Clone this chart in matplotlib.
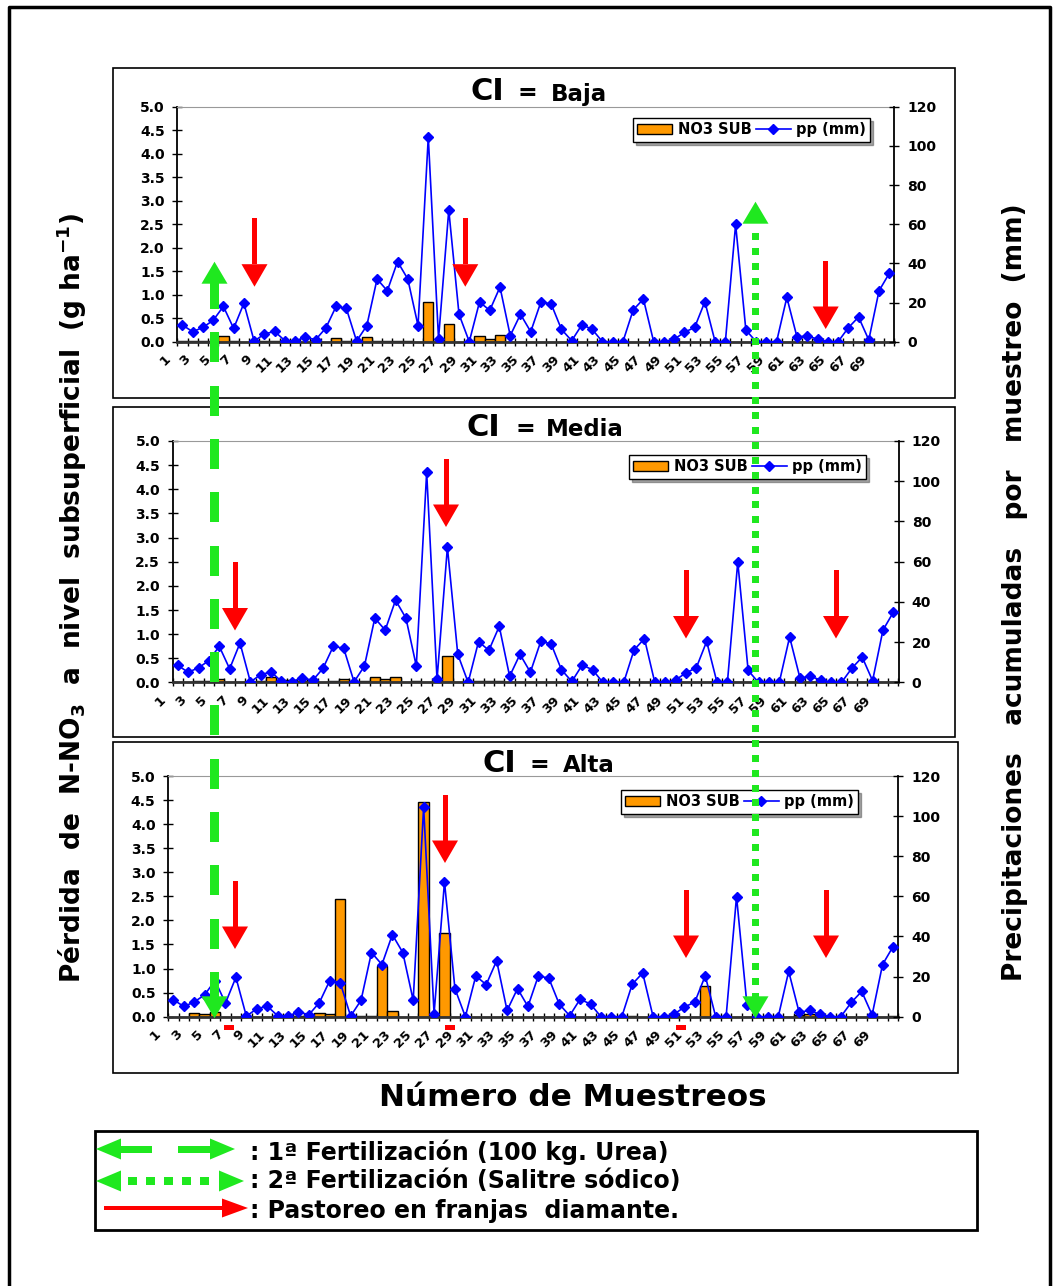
import numpy as np
import matplotlib
matplotlib.use("Agg")
import matplotlib.pyplot as plt
import matplotlib.transforms as mtransforms
from matplotlib.patches import Rectangle, Polygon, Patch
from matplotlib.lines import Line2D
from matplotlib.ticker import FormatStrFormatter

plt.rcParams['font.family'] = ['DejaVu Sans']
plt.rcParams['font.weight'] = 'bold'
plt.rcParams['mathtext.default'] = 'bf'

# datos: 70 muestreos
muestreos = np.arange(1, 71)

pp_mm = [8.5, 5.1, 7.3, 10.9, 18.0, 6.8, 19.6, 0.3, 3.9, 5.3,
         0.5, 0.3, 2.4, 1.0, 7.0, 18.0, 17.0, 0.3, 8.2, 32.0,
         26.0, 40.9, 32.0, 8.2, 104.5, 1.5, 67.2, 14.0, 0.0, 20.3,
         16.0, 27.9, 3.1, 14.0, 5.1, 20.4, 19.2, 6.3, 0.5, 8.7,
         6.3, 0.0, 0.0, 0.0, 16.2, 21.8, 0.0, 0.0, 1.2, 4.8,
         7.3, 20.4, 0.0, 0.0, 59.9, 6.0, 0.0, 0.0, 0.0, 22.6,
         2.2, 3.1, 1.2, 0.0, 0.0, 7.1, 12.6, 0.9, 26.0, 34.9]

no3_baja = [0.02, 0.02, 0.02, 0.02, 0.12, 0.02, 0, 0, 0.02, 0.02,
            0, 0, 0, 0, 0, 0.07, 0.02, 0, 0.09, 0.02,
            0.02, 0.02, 0.02, 0, 0.84, 0, 0.37, 0, 0, 0.13,
            0.05, 0.15, 0, 0, 0, 0, 0, 0, 0, 0,
            0, 0, 0, 0, 0, 0, 0, 0, 0, 0,
            0, 0, 0, 0, 0, 0, 0, 0, 0, 0,
            0, 0, 0, 0, 0, 0, 0, 0, 0, 0]

no3_media = [0, 0, 0.04, 0.04, 0.08, 0, 0, 0, 0.03, 0.11,
             0.06, 0.06, 0.04, 0, 0, 0.04, 0.07, 0, 0.04, 0.11,
             0.08, 0.11, 0, 0.03, 0, 0, 0.54, 0, 0, 0.04,
             0.04, 0.03, 0, 0, 0, 0, 0, 0, 0, 0,
             0, 0, 0, 0, 0, 0.02, 0, 0, 0, 0,
             0.02, 0, 0, 0, 0, 0, 0, 0, 0, 0,
             0, 0, 0, 0, 0, 0, 0, 0, 0, 0]

no3_alta = [0, 0, 0.08, 0.05, 0.09, 0, 0, 0, 0, 0,
            0.01, 0.01, 0.01, 0.01, 0.08, 0.05, 2.44, 0, 0.02, 0.02,
            1.05, 0.12, 0, 0, 4.45, 0, 1.74, 0, 0, 0,
            0, 0, 0, 0, 0, 0, 0, 0, 0, 0,
            0, 0, 0, 0, 0.02, 0, 0, 0, 0, 0,
            0, 0.64, 0, 0, 0, 0, 0, 0, 0, 0,
            0.03, 0.05, 0, 0, 0, 0, 0, 0, 0, 0.02]

naranja = '#FF9900'
azul = '#0000FF'
verde = '#1FE81F'
rojo = '#FF0000'

W, H = 1057, 1286
fig = plt.figure(figsize=(W / 100, H / 100), dpi=100)

# capa para anotaciones en pixeles
ov = fig.add_axes([0, 0, 1, 1])
ov.set_xlim(0, W)
ov.set_ylim(H, 0)
ov.axis('off')
ov.set_zorder(10)

# marco general
ov.plot([9, 9, 1050, 1050], [1286, 7, 7, 1286], color='black', lw=2.5, solid_capstyle='projecting')


def grafico(no3, ejes, marco, palabra, tx, base, ley):
    x0, x1, y0, y1 = ejes
    ov.add_patch(Rectangle((marco[0], marco[1]), marco[2] - marco[0], marco[3] - marco[1],
                           fill=False, edgecolor='black', lw=1.2))
    ax = fig.add_axes([x0 / W, 1 - y1 / H, (x1 - x0) / W, (y1 - y0) / H])
    ax.patch.set_alpha(0)
    ax.bar(muestreos, no3, width=1.0, color=naranja, edgecolor='black', linewidth=1.0, zorder=2)
    ax.set_xlim(0.5, 70.5)
    ax.set_ylim(0, 5)
    ax.set_yticks(np.arange(0, 5.01, 0.5))
    ax.yaxis.set_major_formatter(FormatStrFormatter('%.1f'))
    ax.set_xticks(np.arange(0.5, 71, 1))
    ax.set_xticklabels([])
    ax.set_xticks(muestreos[::2], minor=True)
    ax.set_xticklabels([str(k) for k in muestreos[::2]], minor=True, rotation=45, ha='right')
    ax.tick_params(axis='x', which='major', direction='inout', length=6, width=1, color='black')
    ax.tick_params(axis='x', which='minor', length=0, pad=8, labelsize=9.5)
    ax.tick_params(axis='y', direction='inout', length=7, width=1, labelsize=10, pad=5.5)
    desplaza = mtransforms.ScaledTranslation(-7 / 72, 0, fig.dpi_scale_trans)
    for t in ax.get_xticklabels(minor=True):
        t.set_transform(t.get_transform() + desplaza)
    ax.spines['top'].set_color('#999999')
    ax.spines['right'].set_visible(False)
    ax.spines['left'].set_linewidth(1.3)
    ax.spines['bottom'].set_linewidth(2)
    ax.spines['bottom'].set_color('#333333')

    ax2 = ax.twinx()
    ax2.plot(muestreos, pp_mm, color=azul, lw=1.2, marker='D', ms=5, zorder=3)
    ax2.set_ylim(0, 120)
    ax2.set_yticks(range(0, 121, 20))
    ax2.tick_params(axis='y', direction='inout', length=7, width=1, labelsize=10, pad=6)
    for s in ('left', 'top', 'bottom'):
        ax2.spines[s].set_visible(False)
    ax2.spines['right'].set_linewidth(1.3)

    manejas = [Patch(facecolor=naranja, edgecolor='black', label='NO3 SUB'),
               Line2D([], [], color=azul, marker='D', ms=5, lw=1.2, label='pp (mm)')]
    leg = ax2.legend(handles=manejas, ncol=2, loc='upper right',
                     bbox_to_anchor=(ley[0] / W, 1 - ley[1] / H), bbox_transform=fig.transFigure,
                     frameon=True, fancybox=False, shadow=True, edgecolor='black',
                     prop={'weight': 'bold', 'size': 10.5}, handlelength=2.4,
                     handletextpad=0.35, columnspacing=0.3, borderpad=0.3, borderaxespad=0)
    leg.get_frame().set_linewidth(1.0)

    ov.text(tx[0], base, 'CI', fontsize=22, ha='left', va='baseline')
    ov.text(tx[1], base, '=', fontsize=17, ha='left', va='baseline')
    ov.text(tx[2], base, palabra, fontsize=16.5, ha='left', va='baseline')


grafico(no3_baja, (177.3, 894.4, 106.7, 341.7), (113, 68, 955, 398), 'Baja',
        (470, 518, 551), 100.5, (870, 118))
grafico(no3_media, (172.6, 898.5, 441, 682.5), (113, 407, 955, 737), 'Media',
        (466, 515, 546), 435.7, (866, 455))
grafico(no3_alta, (168.1, 898.2, 776, 1016.7), (112.5, 742, 957.5, 1073), 'Alta',
        (482, 530, 563), 771.7, (858, 790))


def cabeza(x, punta, alto, ancho, color, eje='v'):
    if eje == 'v':
        base = punta + alto if alto > 0 else punta + alto
        pts = [[x - ancho / 2, punta + alto], [x + ancho / 2, punta + alto], [x, punta]]
    else:
        pts = [[punta + alto, x - ancho / 2], [punta + alto, x + ancho / 2], [punta, x]]
    ov.add_patch(Polygon(pts, closed=True, facecolor=color, edgecolor='none'))


def flecha_verde(x, arriba, abajo, inicio, periodo, largo, grosor):
    cabeza(x, arriba, 22, 26, verde)
    cabeza(x, abajo, -22, 26, verde)
    y = inicio
    while y < abajo - 22:
        a = max(y, arriba + 21)
        b = min(y + largo, abajo - 21)
        if b > a:
            ov.add_patch(Rectangle((x - grosor / 2, a), grosor, b - a, facecolor=verde, edgecolor='none'))
        y += periodo


# 1a fertilizacion (trazos) y 2a fertilizacion (puntos)
flecha_verde(214.5, 261.7, 1018.3, 279, 53.3, 30, 9)
flecha_verde(755.5, 201.7, 1018.3, 233.3, 14.9, 7, 7.5)


def flecha_roja(x, punta):
    ov.add_patch(Rectangle((x - 2.5, punta - 68.5), 5, 46, facecolor=rojo, edgecolor='none'))
    cabeza(x, punta, -22.5, 26, rojo)


for x, p in [(254.5, 286.7), (465.3, 286.7), (825.7, 329),
             (235, 630.5), (446, 527), (686, 638.5), (836, 638.5),
             (235, 949), (445, 863), (686, 958), (826, 958)]:
    flecha_roja(x, p)

for x in (224.3, 445, 675.5):
    ov.add_patch(Rectangle((x, 1025), 10, 4.5, facecolor=rojo, edgecolor='none'))

# textos de ejes
ov.text(72, 598, 'Pérdida  de  N-NO$_3$  a  nivel  subsuperficial  (g ha$^{-1}$)',
        rotation=90, fontsize=19, ha='center', va='center')
ov.text(1015, 592, 'Precipitaciones   acumuladas   por   muestreo  (mm)',
        rotation=90, fontsize=19, ha='center', va='center')
ov.text(573, 1097, 'Número de Muestreos', fontsize=22.4, ha='center', va='center')

# leyenda de flechas
ov.add_patch(Rectangle((95, 1131), 882, 99, fill=False, edgecolor='black', lw=2))
fila1, fila2, fila3 = 1149, 1181, 1208
cabeza(fila1, 96, 25, 21, verde, eje='h')
ov.add_patch(Rectangle((120, fila1 - 3.5), 32, 7, facecolor=verde, edgecolor='none'))
ov.add_patch(Rectangle((178, fila1 - 3.5), 32, 7, facecolor=verde, edgecolor='none'))
cabeza(fila1, 235, -25, 21, verde, eje='h')

cabeza(fila2, 96, 25, 21, verde, eje='h')
for x in np.arange(128, 212, 18):
    ov.add_patch(Rectangle((x, fila2 - 4), 8.5, 8, facecolor=verde, edgecolor='none'))
cabeza(fila2, 244, -25, 21, verde, eje='h')

ov.add_patch(Rectangle((104, fila3 - 2), 120, 4, facecolor=rojo, edgecolor='none'))
cabeza(fila3, 248, -26, 19, rojo, eje='h')

ov.text(250, 1152, ': 1ª Fertilización (100 kg. Urea)', fontsize=17, ha='left', va='center')
ov.text(250, 1181, ': 2ª Fertilización (Salitre sódico)', fontsize=17, ha='left', va='center')
ov.text(250, 1211, ': Pastoreo en franjas  diamante.', fontsize=17, ha='left', va='center')

fig.savefig('out.png', dpi=100)
